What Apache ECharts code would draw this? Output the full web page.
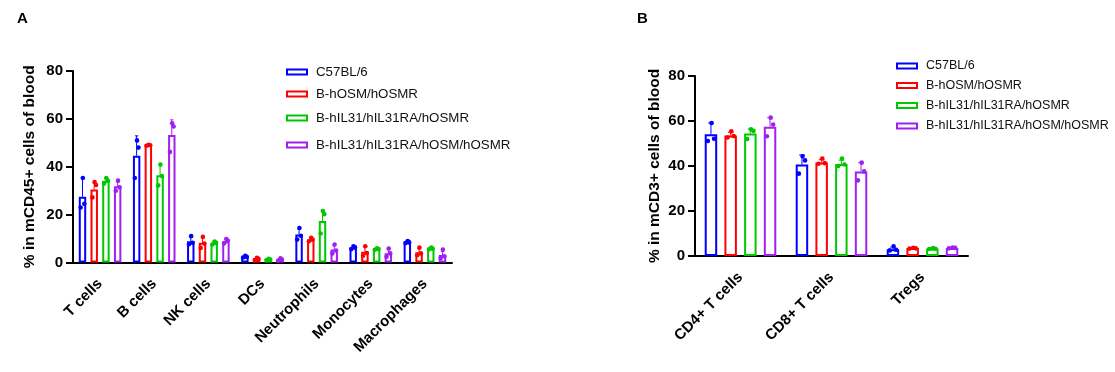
<!DOCTYPE html>
<html>
<head>
<meta charset="utf-8">
<script src="https://cdn.jsdelivr.net/npm/echarts@6/dist/echarts.min.js"></script>
<style>html,body{margin:0;padding:0;background:#fff;}#c{width:1115px;height:372px;}</style>
</head>
<body>
<div id="c"></div>
<script>
// ---------- data ----------
const groups = ['C57BL/6', 'B-hOSM/hOSMR', 'B-hIL31/hIL31RA/hOSMR', 'B-hIL31/hIL31RA/hOSM/hOSMR'];
const colors = ['#0000ff', '#ff0000', '#00c800', '#a020f0'];
const yTicks = [0, 20, 40, 60, 80];

// Panel A: % in mCD45+ cells of blood
const catsA = ['T cells', 'B cells', 'NK cells', 'DCs', 'Neutrophils', 'Monocytes', 'Macrophages'];
const meanA_C57 = [27.5, 44.6, 8.9, 2.4, 11.7, 6.3, 8.5];
const meanA_OSM = [30.5, 49.2, 8.2, 1.5, 9.6, 4.5, 4.3];
const meanA_IL31 = [34.2, 36.4, 8.1, 1.3, 17.3, 5.7, 5.9];
const meanA_ALL = [31.9, 53.3, 8.9, 1.2, 5.4, 3.9, 3.1];
const sdA_C57 = [8.0, 8.3, 1.9, 0.4, 2.3, 0.7, 0.5];
const sdA_OSM = [2.8, 0.3, 2.3, 0.5, 0.8, 2.0, 1.6];
const sdA_IL31 = [0.9, 4.4, 0.7, 0.3, 4.6, 0.3, 0.4];
const sdA_ALL = [1.8, 6.3, 1.0, 0.5, 1.6, 1.6, 1.5];
const ptsA_C57 = [[35.3, 24.5, 23.0], [51.0, 48.0, 35.3], [11.0, 8.2, 7.6], [2.8, 2.4, 2.1], [14.4, 11.2, 9.6], [6.8, 6.3, 5.6], [9.0, 8.4, 8.1]];
const ptsA_OSM = [[33.6, 32.4, 27.2], [49.2, 49.0, 48.8], [10.7, 7.9, 6.1], [2.0, 1.5, 1.0], [10.3, 9.6, 8.9], [6.8, 4.0, 2.8], [6.2, 3.8, 3.0]];
const ptsA_IL31 = [[35.3, 34.2, 33.0], [40.9, 36.1, 32.2], [8.8, 8.2, 7.5], [1.5, 1.2, 1.0], [21.5, 20.2, 12.1], [5.9, 5.6, 5.3], [6.2, 5.8, 5.5]];
const ptsA_ALL = [[34.2, 31.4, 30.0], [58.2, 56.8, 46.2], [9.8, 9.2, 8.0], [1.8, 1.2, 0.8], [7.5, 5.0, 3.8], [5.8, 3.8, 2.4], [5.4, 2.6, 1.8]];

// Panel B: % in mCD3+ cells of blood
const catsB = ['CD4+ T cells', 'CD8+ T cells', 'Tregs'];
const meanB_C57 = [54.1, 40.7, 3.0];
const meanB_OSM = [53.6, 41.6, 3.6];
const meanB_IL31 = [54.4, 40.9, 3.3];
const meanB_ALL = [57.5, 37.6, 3.6];
const sdB_C57 = [5.0, 4.2, 1.0];
const sdB_OSM = [1.4, 1.2, 0.2];
const sdB_IL31 = [2.0, 1.7, 0.2];
const sdB_ALL = [4.0, 3.9, 0.2];
const ptsB_C57 = [[59.1, 52.1, 51.1], [44.3, 42.5, 36.6], [4.3, 2.8, 2.5]];
const ptsB_OSM = [[55.4, 53.3, 52.7], [43.3, 41.3, 41.0], [3.7, 3.4, 3.3]];
const ptsB_IL31 = [[56.3, 55.6, 52.0], [43.3, 40.7, 40.0], [3.5, 3.2, 3.1]];
const ptsB_ALL = [[61.5, 58.4, 53.2], [41.5, 37.6, 33.6], [3.8, 3.6, 3.4]];

// ---------- chart ----------
const FONT = '"Liberation Sans", Arial, sans-serif';
const BARW = 0.137, GAP = 0.58, PITCH = BARW * (1 + GAP);
const JIT = [0.05, 0.25, -0.25];

const panels = [
  { cats: catsA, means: [meanA_C57, meanA_OSM, meanA_IL31, meanA_ALL], sds: [sdA_C57, sdA_OSM, sdA_IL31, sdA_ALL], pts: [ptsA_C57, ptsA_OSM, ptsA_IL31, ptsA_ALL] },
  { cats: catsB, means: [meanB_C57, meanB_OSM, meanB_IL31, meanB_ALL], sds: [sdB_C57, sdB_OSM, sdB_IL31, sdB_ALL], pts: [ptsB_C57, ptsB_OSM, ptsB_IL31, ptsB_ALL] }
];

const grids = [
  { left: 73, top: 71, width: 379, height: 191.5 },
  { left: 695, top: 76, width: 273, height: 180 }
];
const yNames = ['% in mCD45+ cells of blood', '% in mCD3+ cells of blood'];
const nameGaps = [35, 32];

const axisText = { color: '#000', fontWeight: 'bold', fontSize: 15, fontFamily: FONT };

const xAxes = panels.map((p, i) => ({
  type: 'category', gridIndex: i, data: p.cats,
  axisLine: { lineStyle: { color: '#000', width: 2 } },
  axisTick: { alignWithLabel: true, length: 7, lineStyle: { color: '#000', width: 2 } },
  axisLabel: Object.assign({ rotate: 45, margin: 19, interval: 0 }, axisText)
}));
const yAxes = panels.map((p, i) => ({
  type: 'value', gridIndex: i, min: yTicks[0], max: yTicks[yTicks.length - 1], interval: yTicks[1] - yTicks[0],
  name: yNames[i], nameLocation: 'middle', nameGap: nameGaps[i], nameRotate: 90,
  nameTextStyle: { color: '#000', fontWeight: 'bold', fontSize: 15.5, fontFamily: FONT },
  axisLine: { show: true, lineStyle: { color: '#000', width: 2 } },
  axisTick: { show: true, length: 7, lineStyle: { color: '#000', width: 2 } },
  axisLabel: Object.assign({ margin: 10 }, axisText),
  splitLine: { show: false }
}));

const series = [];
panels.forEach((p, pi) => {
  groups.forEach((g, k) => {
    series.push({
      type: 'bar', name: g, xAxisIndex: pi, yAxisIndex: pi,
      data: p.means[k], barWidth: (BARW * 100).toFixed(1) + '%', barGap: (GAP * 100).toFixed(0) + '%',
      itemStyle: { color: '#fff', borderColor: colors[k], borderWidth: 2 },
      z: 2
    });
  });
  groups.forEach((g, k) => {
    const data = p.cats.map((c, ci) => [ci, p.means[k][ci], p.sds[k][ci]].concat(p.pts[k][ci]));
    series.push({
      type: 'custom', name: 'pts' + pi + '_' + k, xAxisIndex: pi, yAxisIndex: pi, z: 5,
      encode: { x: 0, y: 1 },
      data: data,
      renderItem: function (params, api) {
        const ci = api.value(0);
        const m = api.value(1), sd = api.value(2);
        const base = api.coord([ci, 0]);
        const band = api.size([1, 0])[0];
        const x = base[0] + (k - 1.5) * PITCH * band;
        const bw = BARW * band;
        const yM = api.coord([ci, m])[1];
        const yT = api.coord([ci, m + sd])[1];
        const cap = bw * 0.45;
        const st = { stroke: colors[k], lineWidth: 1 };
        const children = [
          { type: 'line', shape: { x1: x, y1: yM, x2: x, y2: yT }, style: st },
          { type: 'line', shape: { x1: x - cap / 2, y1: yT, x2: x + cap / 2, y2: yT }, style: st }
        ];
        for (let j = 0; j < 3; j++) {
          const py = api.coord([ci, api.value(3 + j)])[1];
          children.push({ type: 'circle', shape: { cx: x + JIT[j] * bw, cy: py, r: 2.3 }, style: { fill: colors[k] } });
        }
        return { type: 'group', children: children };
      }
    });
  });
});

// legends (one per entry so each row can sit where the reference has it)
const legA = { left: 286, rows: [72.5, 94.5, 118.5, 145.5], size: 13.3 };
const legB = { left: 896, rows: [66.5, 86, 106, 126.5], size: 12.5 };
const legends = [];
[legA, legB].forEach(L => {
  groups.forEach((g, k) => {
    legends.push({
      left: L.left, top: L.rows[k] - 7, orient: 'vertical', padding: 0,
      itemWidth: 20, itemHeight: 5, icon: 'rect', selectedMode: false,
      data: [{ name: g, itemStyle: { color: '#fff', borderColor: colors[k], borderWidth: 2 } }],
      textStyle: { color: '#111', fontSize: L.size, fontFamily: FONT, padding: [0, 0, 0, 4] }
    });
  });
});

const option = {
  animation: false,
  backgroundColor: '#fff',
  title: [
    { text: 'A', left: 17, top: 11, padding: 0, textStyle: { fontSize: 15, fontWeight: 'bold', color: '#000', fontFamily: FONT } },
    { text: 'B', left: 637, top: 11, padding: 0, textStyle: { fontSize: 15, fontWeight: 'bold', color: '#000', fontFamily: FONT } }
  ],
  legend: legends,
  grid: grids,
  xAxis: xAxes,
  yAxis: yAxes,
  series: series
};

const chart = echarts.init(document.getElementById('c'), null, { renderer: 'canvas' });
chart.setOption(option);
</script>
</body>
</html>
